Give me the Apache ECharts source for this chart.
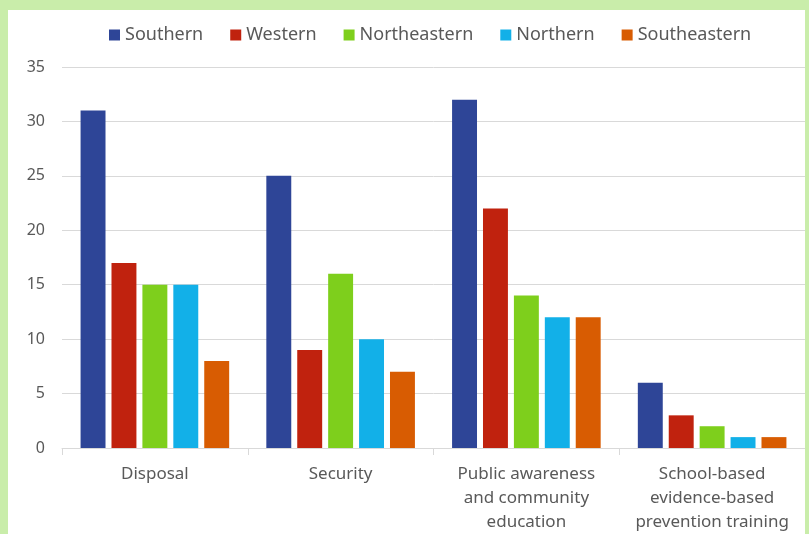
<!DOCTYPE html>
<html>
<head>
<meta charset="utf-8">
<script src="https://cdn.jsdelivr.net/npm/echarts@6/dist/echarts.min.js"></script>
<style>
html,body{margin:0;padding:0;width:809px;height:534px;background:#c9edaa;overflow:hidden;}
#chart{position:absolute;left:8px;top:10px;width:797px;height:524px;background:#ffffff;}
</style>
</head>
<body>
<div id="chart"></div>
<script>
const categories = ["Disposal", "Security", "Public awareness\nand community\neducation", "School-based\nevidence-based\nprevention training"];
const seriesNames = ["Southern", "Western", "Northeastern", "Northern", "Southeastern"];
const southern = [31, 25, 32, 6];
const western = [17, 9, 22, 3];
const northeastern = [15, 16, 14, 2];
const northern = [15, 10, 12, 1];
const southeastern = [8, 7, 12, 1];
const colors = ["#2e4597", "#c0220e", "#7ecf1c", "#12b0e8", "#d85c02"];
const yTicks = [0, 5, 10, 15, 20, 25, 30, 35];

const values = [southern, western, northeastern, northern, southeastern];
const font = "Noto Sans";
const chart = echarts.init(document.getElementById('chart'));
chart.setOption({
  animation: false,
  color: colors,
  textStyle: { fontFamily: font },
  legend: {
    top: 11, left: 96,
    itemWidth: 11, itemHeight: 11, itemGap: 27,
    icon: 'rect',
    textStyle: { fontFamily: font, fontSize: 18, color: '#595959' },
    data: seriesNames
  },
  grid: { left: 54, right: 0, top: 57, bottom: 86 },
  xAxis: {
    type: 'category',
    data: categories,
    axisLine: { lineStyle: { color: '#d9d9d9', width: 1 } },
    axisTick: { show: true, length: 7, lineStyle: { color: '#d9d9d9' } },
    axisLabel: { fontFamily: font, fontSize: 17, color: '#595959', lineHeight: 24, margin: 14, interval: 0 }
  },
  yAxis: {
    type: 'value',
    min: yTicks[0], max: yTicks[yTicks.length - 1], interval: 5,
    axisLine: { show: false },
    axisTick: { show: false },
    splitLine: { lineStyle: { color: '#d9d9d9', width: 1 } },
    axisLabel: { fontFamily: font, fontSize: 16, color: '#595959', margin: 17 }
  },
  series: seriesNames.map((n, i) => ({
    name: n, type: 'bar', data: values[i],
    barGap: '24%', barCategoryGap: '20%',
    itemStyle: { color: colors[i] }
  }))
});
</script>
</body>
</html>
